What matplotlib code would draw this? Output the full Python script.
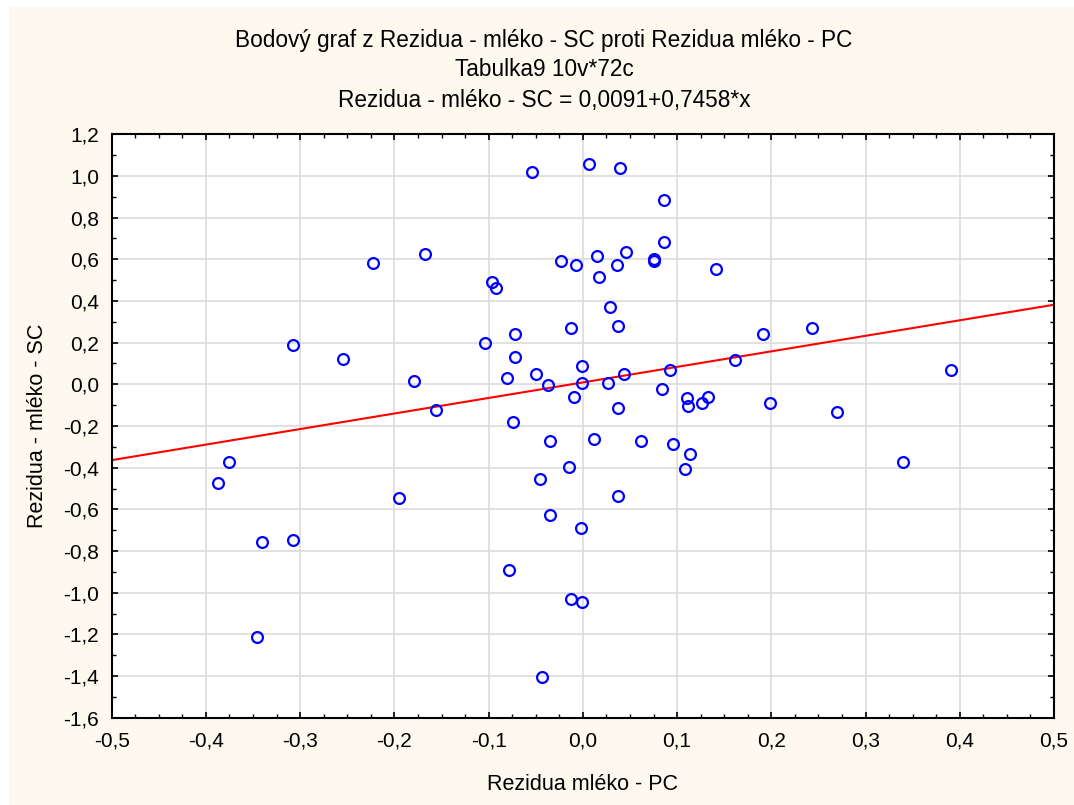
#!/usr/bin/env python3

import numpy as np
from matplotlib import pyplot as plt
from matplotlib.patches import Rectangle
from matplotlib.ticker import FuncFormatter, MultipleLocator

# Rezidua mléko - PC (x) a Rezidua - mléko - SC (y), 72 případů
rez_pc = [-0.054, -0.223, -0.167, -0.023, -0.007, -0.096, -0.092, -0.308,
          -0.255, -0.104, -0.072, -0.013, -0.072, -0.179, -0.080, -0.050,
          -0.037, -0.001, -0.001, -0.009, -0.156, -0.074, 0.006, 0.039,
          0.086, 0.086, 0.015, 0.046, 0.036, 0.017, 0.076, 0.076,
          0.141, 0.029, 0.037, 0.191, 0.243, 0.161, 0.092, 0.044,
          0.027, 0.391, 0.037, 0.084, 0.110, 0.112, 0.126, 0.133,
          0.199, 0.270, -0.375, -0.387, -0.195, -0.035, -0.015, -0.045,
          -0.035, -0.002, -0.341, -0.308, -0.078, -0.013, -0.001, -0.346,
          -0.043, 0.012, 0.062, 0.096, 0.114, 0.108, 0.037, 0.340]
rez_sc = [1.019, 0.580, 0.626, 0.591, 0.572, 0.489, 0.462, 0.188,
          0.123, 0.197, 0.243, 0.270, 0.132, 0.014, 0.032, 0.051,
          -0.005, 0.088, 0.005, -0.059, -0.123, -0.179, 1.056, 1.039,
          0.884, 0.682, 0.617, 0.636, 0.572, 0.516, 0.600, 0.593,
          0.554, 0.371, 0.278, 0.243, 0.270, 0.115, 0.070, 0.051,
          0.005, 0.070, -0.114, -0.023, -0.067, -0.104, -0.088, -0.059,
          -0.088, -0.133, -0.371, -0.472, -0.545, -0.270, -0.398, -0.453,
          -0.627, -0.690, -0.755, -0.745, -0.892, -1.030, -1.047, -1.212,
          -1.404, -0.261, -0.270, -0.288, -0.334, -0.408, -0.536, -0.371]

# regresní přímka z titulku
intercept = 0.0091
slope = 0.7458

plt.rcParams['font.family'] = ['Liberation Sans', 'DejaVu Sans']

fig = plt.figure(figsize=(10.74, 8.05), dpi=100)
fig.patch.set_facecolor('white')
W, H = 1074, 805

# krémové pozadí okna grafu
fig.patches.append(Rectangle((9 / W, 0), 1 - 9 / W, 1 - 7 / H,
                             transform=fig.transFigure, facecolor='#fef9ef',
                             edgecolor='none', zorder=-5))

ax = fig.add_axes([111.7 / W, 1 - 717.7 / H, (1054 - 111.7) / W, (717.7 - 134.3) / H])
ax.set_facecolor('white')

xx = np.array([-0.5, 0.5])
ax.plot(xx, intercept + slope * xx, color='red', lw=1.5, zorder=2)
ax.plot(rez_pc, rez_sc, 'o', mfc='none', mec='#0000ff', ms=7.8, mew=1.6, zorder=3)

ax.set_xlim(-0.5, 0.5)
ax.set_ylim(-1.6, 1.2)
ax.xaxis.set_major_locator(MultipleLocator(0.1))
ax.xaxis.set_minor_locator(MultipleLocator(0.025))
ax.yaxis.set_major_locator(MultipleLocator(0.2))
ax.yaxis.set_minor_locator(MultipleLocator(0.1))
fmt = FuncFormatter(lambda v, p: f'{v:.1f}'.replace('.', ','))
ax.xaxis.set_major_formatter(fmt)
ax.yaxis.set_major_formatter(fmt)

ax.grid(True, which='major', color='#dcdcdc', lw=1.2)
ax.set_axisbelow(True)
ax.tick_params(which='both', direction='in', top=True, right=True, color='black')
ax.tick_params(which='major', length=4, width=1.2, labelsize=15, pad=9)
ax.tick_params(axis='x', which='major', pad=10)
ax.tick_params(which='minor', length=3, width=1)
for s in ax.spines.values():
	s.set_linewidth(1.5)

ax.set_xlabel('Rezidua mléko - PC', fontsize=15.5, labelpad=17)
ax.set_ylabel('Rezidua - mléko - SC', fontsize=15.5, labelpad=11)

cx = 544 / W
fig.text(cx, 1 - 41 / H, 'Bodový graf z Rezidua - mléko - SC proti Rezidua mléko - PC',
         ha='center', va='center', fontsize=16.3)
fig.text(cx, 1 - 70 / H, 'Tabulka9 10v*72c', ha='center', va='center', fontsize=16.3)
fig.text(cx, 1 - 100 / H, 'Rezidua - mléko - SC = 0,0091+0,7458*x',
         ha='center', va='center', fontsize=16.3)

fig.savefig('out.png', dpi=100)
